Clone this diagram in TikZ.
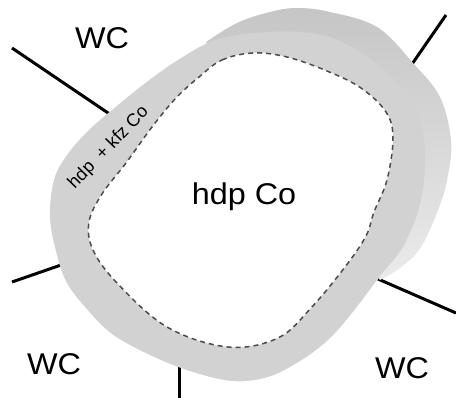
\documentclass[tikz,border=0pt]{standalone}
\usepackage{fontspec}
\setmainfont{Liberation Sans}
\begin{document}
\begin{tikzpicture}[x=1pt,y=-1pt,
    wc/.style={font=\fontsize{30}{36}\selectfont,xscale=1.08,inner sep=0pt},
    tie/.style={line width=3pt,black}]
  \useasboundingbox (0,0) rectangle (456,398);
  \coordinate (tlout) at (12,48);   \coordinate (tlin) at (114,117);
  \coordinate (trout) at (446,15);  \coordinate (trin) at (410,67);
  \coordinate (lout) at (12,282);   \coordinate (lin) at (64,264);
  \coordinate (bout) at (179,398);  \coordinate (bin) at (179,362);
  \coordinate (rout) at (456,313);  \coordinate (rin) at (378,279);
  \draw[tie] (tlout) -- (tlin);
  \draw[tie] (trout) -- (trin);
  \draw[tie] (lout) -- (lin);
  \draw[tie] (bout) -- (bin);
  \draw[tie] (rout) -- (rin);
  \shade[top color=gray!45,bottom color=gray!16] plot[smooth,tension=0.6] coordinates {(206,42) (237,23) (270,12) (297,8) (330,12) (377,27) (413,63) (440,97) (451,140) (448,175) (440,205) (421,247) (400,268) (380,280)} -- (300,200) -- cycle;
  \fill[gray!35] plot[smooth cycle,tension=0.6] coordinates {(50,218) (54,180) (67,155) (88,131) (112,110) (148,81) (178,60) (208,43) (238,35) (270,32) (300,32) (332,38) (366,56) (398,84) (417,110) (425,150) (421,200) (404,245) (380,276) (352,313) (328,340) (300,361) (268,377) (232,381) (190,371) (150,355) (112,334) (86,308) (67,283) (57,255)};
  \draw[fill=white,draw=black!70,line width=1.5pt,dash pattern=on 5pt off 4pt] plot[smooth cycle,tension=0.6] coordinates {(199,77) (222,60) (253,53) (287,57) (327,71) (361,88) (386,112) (393,138) (387,180) (374,212) (366,236) (345,267) (311,308) (278,338) (228,347) (167,327) (117,283) (93,250) (89,222) (102,194) (126,163) (152,127) (176,98)};
  \node[wc] (wctl) at (102,38) {WC};
  \node[wc] (wcbl) at (54,364) {WC};
  \node[wc] (wcbr) at (402,368) {WC};
  \node[wc,anchor=base] (core) at (244,205) {hdp Co};
  \node[font=\fontsize{18}{21}\selectfont,rotate=46,anchor=base,inner sep=0pt] (shell) at (112,151) {hdp\ \ + kfz Co};
\end{tikzpicture}
\end{document}
